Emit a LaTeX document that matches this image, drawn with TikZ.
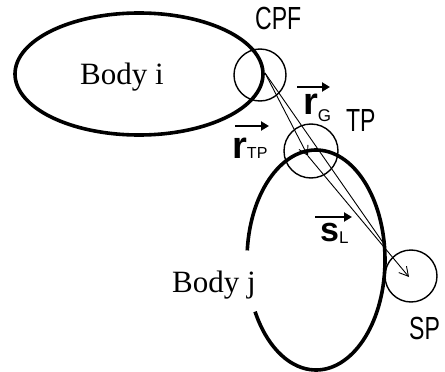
\documentclass[tikz,border=0pt]{standalone}
\usepackage{fontspec}
\setmainfont{Liberation Serif}
\newfontfamily\labfont{Liberation Sans}
\usetikzlibrary{arrows.meta}
\tikzset{
  body/.style={line width=3.6pt},
  ring/.style={line width=1.4pt},
  vline/.style={line width=0.9pt},
  barb/.style={vline,-{Straight Barb[length=9pt,width=10pt,line width=0.9pt]}},
  vecarr/.style={line width=2.6pt,-{Triangle[length=8pt,width=9pt]}},
  bodylabel/.style={inner sep=0pt,anchor=base west,font=\fontsize{31}{31}\selectfont},
  ptlabel/.style={inner sep=0pt,anchor=base west,font=\labfont\fontsize{32}{32}\selectfont,xscale=0.72},
  veclabel/.style={inner sep=0pt,anchor=base west,font=\labfont}
}
\begin{document}
\begin{tikzpicture}[x=1pt,y=-1pt]
\useasboundingbox (0,0) rectangle (445,372);
% Body i
\draw[body] (139,74) ellipse[x radius=124,y radius=61];
% Body j (open on the left)
\draw[body] (316,260) ++(185:69 and 110) arc[start angle=185,end angle=512,x radius=69,y radius=110];
% circles
\node[ring,draw,circle,minimum size=52pt,inner sep=0pt] (cpf) at (260,75) {};
\node[ring,draw,circle,minimum size=54pt,inner sep=0pt] (tp) at (311,151) {};
\node[ring,draw,circle,minimum size=52pt,inner sep=0pt] (sp) at (411,276) {};
% points
\coordinate (p0) at (265,73);
\coordinate (tpp) at (308,156);
\coordinate (gp) at (384,244);
\coordinate (spp) at (409,277);
\draw[barb] (p0) -- (tpp);
\draw[vline] (p0) -- (gp);
\draw[barb] (tpp) -- (spp);
% labels
\node[bodylabel] (bi) at (80,84) {Body i};
\node[bodylabel] (bj) at (172,292) {Body j};
\node[ptlabel] (lcpf) at (255,29) {CPF};
\node[ptlabel] (ltp) at (346,131) {TP};
\node[ptlabel] (lsp) at (409,339) {SP};
% vector labels
\node[veclabel] (rtp) at (232,158) {{\fontsize{38}{38}\selectfont\bfseries r}{\fontsize{16}{16}\selectfont TP}};
\node[veclabel] (rg) at (303,114) {{\fontsize{38}{38}\selectfont\bfseries r}{\fontsize{17}{17}\selectfont\raisebox{-7pt}{G}}};
\node[veclabel] (sl) at (320,241) {{\fontsize{34}{34}\selectfont\bfseries s}{\fontsize{17}{17}\selectfont\raisebox{-2pt}{L}}};
\coordinate (artp1) at (235,126); \coordinate (artp2) at (269,126);
\coordinate (arg1) at (297,87); \coordinate (arg2) at (330,87);
\coordinate (arsl1) at (315,217); \coordinate (arsl2) at (352,217);
\draw[vecarr] (artp1) -- (artp2);
\draw[vecarr] (arg1) -- (arg2);
\draw[vecarr] (arsl1) -- (arsl2);
\end{tikzpicture}
\end{document}
